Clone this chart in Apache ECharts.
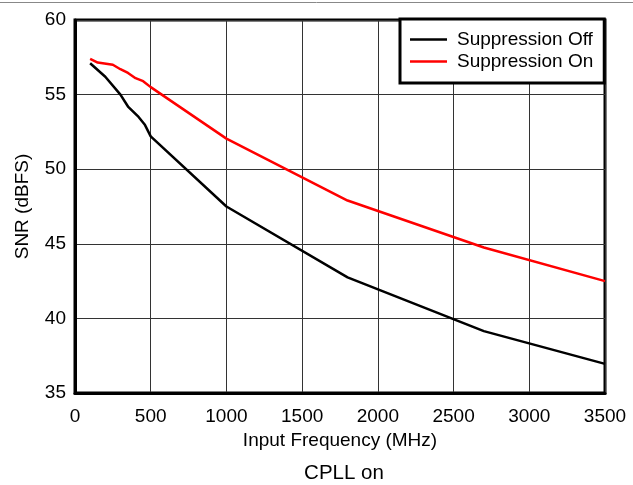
<!DOCTYPE html>
<html>
<head>
<meta charset="utf-8">
<script src="https://cdn.jsdelivr.net/npm/echarts@6/dist/echarts.min.js"></script>
<style>
html,body{margin:0;padding:0;background:#fff;}
#chart{width:633px;height:485px;}
</style>
</head>
<body>
<div id="chart"></div>
<script>
var seriesNames = ['Suppression Off', 'Suppression On'];
var suppressionOff = [[100,57.1],[200,56.2],[300,55.0],[350,54.2],[420,53.5],[460,53.0],[500,52.2],[1000,47.5],[1800,42.75],[2700,39.15],[3500,36.95]];
var suppressionOn = [[100,57.4],[150,57.15],[250,57.0],[300,56.7],[350,56.45],[400,56.1],[450,55.9],[500,55.5],[1000,52.05],[1800,47.9],[2700,44.75],[3500,42.5]];
var xTicks = [0,500,1000,1500,2000,2500,3000,3500];
var yTicks = [35,40,45,50,55,60];

var font = 'Liberation Sans, Arial, sans-serif';
var chart = echarts.init(document.getElementById('chart'));
chart.setOption({
  animation: false,
  backgroundColor: '#fff',
  grid: {left: 75, right: 28, top: 20, bottom: 92, show: true, borderColor: '#000', borderWidth: 3, containLabel: false},
  xAxis: {
    type: 'value', min: xTicks[0], max: xTicks[xTicks.length-1], interval: 500,
    name: 'Input Frequency (MHz)', nameLocation: 'middle', nameGap: 34,
    nameTextStyle: {fontFamily: font, fontSize: 19, color: '#000'},
    axisLine: {show: true, lineStyle: {color: '#000', width: 3}},
    axisTick: {show: false},
    axisLabel: {fontFamily: font, fontSize: 19, color: '#000', margin: 14, formatter: function (v) { return String(v); }},
    splitLine: {show: true, lineStyle: {color: '#333', width: 1}}
  },
  yAxis: {
    type: 'value', min: yTicks[0], max: yTicks[yTicks.length-1], interval: 5,
    name: 'SNR (dBFS)', nameLocation: 'middle', nameGap: 43,
    nameTextStyle: {fontFamily: font, fontSize: 19, color: '#000'},
    axisLine: {show: true, lineStyle: {color: '#000', width: 3}},
    axisTick: {show: false},
    axisLabel: {fontFamily: font, fontSize: 19, color: '#000', margin: 9},
    splitLine: {show: true, lineStyle: {color: '#333', width: 1}}
  },
  legend: {
    orient: 'vertical', left: 400, top: 19,
    backgroundColor: '#fff',
    borderColor: '#000', borderWidth: 3, borderRadius: 0,
    padding: [11, 11, 12, 10],
    itemWidth: 37, itemHeight: 14, itemGap: 3,
    icon: 'path://M0,6 L37,6 L37,8.5 L0,8.5 Z',
    textStyle: {fontFamily: font, fontSize: 19, color: '#000', padding: [0,0,0,5]},
    data: seriesNames
  },
  graphic: [
    {type: 'line', shape: {x1: 0, y1: 2.5, x2: 633, y2: 2.5}, style: {stroke: '#888', lineWidth: 1}},
    {type: 'text', style: {text: 'CPLL on', x: 344, y: 473, textAlign: 'center', textVerticalAlign: 'middle', font: '20.5px ' + font, fill: '#000'}}
  ],
  series: [
    {name: seriesNames[0], type: 'line', data: suppressionOff, showSymbol: false, symbol: 'none', lineStyle: {color: '#000', width: 2.5}, itemStyle: {color: '#000'}, z: 3},
    {name: seriesNames[1], type: 'line', data: suppressionOn, showSymbol: false, symbol: 'none', lineStyle: {color: '#ff0000', width: 2.5}, itemStyle: {color: '#ff0000'}, z: 3}
  ]
});
</script>
</body>
</html>
